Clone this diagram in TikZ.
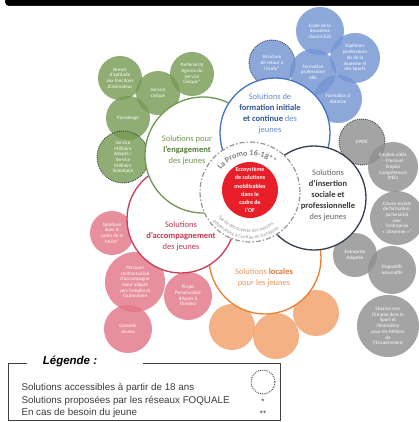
\documentclass[tikz,border=0pt]{standalone}
\usepackage{fontspec}
\setmainfont{Carlito}
\newfontfamily\legfont{Liberation Sans}
\usetikzlibrary{decorations.text}
\definecolor{gfill}{RGB}{120,155,86}
\definecolor{bfill}{RGB}{115,149,211}
\definecolor{yfill}{RGB}{144,144,144}
\definecolor{pfill}{RGB}{227,119,136}
\definecolor{ofill}{RGB}{242,161,105}
\definecolor{gcol}{RGB}{112,150,80}
\definecolor{gdark}{RGB}{90,125,60}
\definecolor{bcol}{RGB}{68,114,196}
\definecolor{blight}{RGB}{100,140,210}
\definecolor{bdark}{RGB}{47,85,151}
\definecolor{icol}{RGB}{50,62,82}
\definecolor{ilight}{RGB}{100,100,100}
\definecolor{idark}{RGB}{55,55,55}
\definecolor{pcol}{RGB}{200,60,90}
\definecolor{ptext}{RGB}{200,50,80}
\definecolor{ocol}{RGB}{237,125,49}
\definecolor{olight}{RGB}{235,150,90}
\definecolor{odark}{RGB}{220,120,55}
\definecolor{redc}{RGB}{232,30,40}
\definecolor{ringc}{RGB}{150,150,150}
\definecolor{legc}{RGB}{60,60,60}
\tikzset{
  smallc/.style={circle, inner sep=0pt, minimum size=#1, align=center, text=white,
    font=\fontsize{5}{5.7}\selectfont, fill opacity=0.82, text opacity=1},
  gsc/.style={smallc=#1, fill=gfill},
  bsc/.style={smallc=#1, fill=bfill},
  ysc/.style={smallc=#1, fill=yfill},
  psc/.style={smallc=#1, fill=pfill},
  osc/.style={smallc=#1, fill=ofill},
  dotb/.style={draw=black!75, densely dotted, line width=0.9pt, draw opacity=1},
  mainc/.style={circle, inner sep=0pt, minimum size=#1, fill=white, line width=1.3pt},
  mtext/.style={align=center, font=\fontsize{8.5}{11}\selectfont},
  legline/.style={draw=black!75, line width=0.9pt},
  legtext/.style={anchor=base west, text=legc, font=\legfont\fontsize{9.8}{11}\selectfont},
}
\begin{document}
\begin{tikzpicture}[x=1pt,y=1pt]
\useasboundingbox (0,0) rectangle (418,-422);
\fill[white] (0,0) rectangle (418,-422);
% top bar
\node[fill=black, draw=black, line width=0.5pt, rounded corners=4pt, inner sep=0pt,
  minimum width=440pt, minimum height=12pt, anchor=south west] (topbar) at (5,-6) {};
% green small circles
\node[gsc=44pt] (brevet) at (120,-78) {Brevet\\d'aptitude\\aux fonctions\\d'animateur};
\node[gsc=44pt] (civique) at (158,-93) {Service\\civique};
\node[gsc=44pt] (partenariat) at (192,-74) {Partenariat\\Agence du\\Service\\Civique*};
\node[gsc=44pt] (parrainage) at (128,-118) {Parrainage};
\node[gsc=52pt, dotb] (sma) at (123,-157) {Service\\Militaire\\Adapté /\\Service\\Militaire\\Volontaire};
% blue small circles
\node[bsc=48pt] (e2c) at (320,-31) {Ecole de la\\deuxième\\chance E2C};
\node[bsc=50pt] (diplomes) at (355,-58) {Diplômes\\professionn\\els de la\\Jeunesse et\\des Sports};
\node[bsc=46pt, dotb] (retour) at (272,-63) {Structure\\de retour à\\l'école*};
\node[bsc=46pt] (formpro) at (313,-72) {Formation\\professionn\\elle};
\node[bsc=48pt] (distance) at (338,-99) {Formation à\\distance};
% grey small circles
\node[ysc=46pt, dotb] (epide) at (362,-142) {EPIDE};
\node[ysc=50pt] (pec) at (393,-167) {Emplois aidés\\– Parcours\\Emploi\\Compétences\\(PEC)};
\node[ysc=54pt] (clause) at (397,-218) {Clause sociale\\de formation,\\partenariat\\avec\\l'entreprise\\« citoyenne »*};
\node[ysc=44pt] (ea) at (355,-255) {Entreprise\\Adaptée};
\node[ysc=48pt] (assoc) at (392,-270) {Dispositifs\\associatifs};
\node[ysc=62pt] (sesame) at (388,-326) {Sésame vers\\l'Emploi dans le\\Sport et\\l'Animation\\pour les Métiers\\de\\l'Encadrement};
% pink small circles
\node[psc=44pt] (mlds) at (112,-233) {Solutions\\dans le\\cadre de la\\MLDS*};
\node[psc=60pt] (parcours) at (135,-282) {Parcours\\contractualisé\\d'accompagne\\ment adapté\\vers l'emploi et\\l'autonomie};
\node[psc=48pt] (ppae) at (188,-296) {Projet\\Personnalisé\\d'Accès à\\l'Emploi};
\node[psc=48pt] (garantie) at (128,-329) {Garantie\\Jeunes};
% orange small circles
\node[osc=46pt] (o1) at (232,-327) {};
\node[osc=46pt] (o2) at (276,-336) {};
\node[osc=46pt] (o3) at (316,-313) {};
% main circles
\node[mainc=112pt, draw=ocol] (mlocal) at (265,-258) {};
\node[mainc=108pt, draw=pcol] (maccomp) at (181,-219) {};
\node[mainc=116pt, draw=gcol] (mengage) at (203,-155) {};
\node[mainc=110pt, draw=bcol] (mform) at (275,-133) {};
\node[mainc=104pt, draw=icol] (minsert) at (314,-198) {};
% central ring
\coordinate (rc) at (250,-192);
\node[circle, inner sep=0pt, minimum size=100pt, fill=white, draw=ringc, line width=1.2pt,
  dash pattern=on 5pt off 2pt on 1.5pt off 2pt] (ring) at (rc) {};
\node[circle, inner sep=0pt, minimum size=56pt, fill=redc, text=white, align=center,
  font=\fontsize{6}{8.1}\selectfont\bfseries] (eco) at (250,-190) {Ecosystème\\de solutions\\mobilisables\\dans le\\cadre de\\l'OF};
\path[decorate, decoration={text along path, text align=center,
  text={|\fontsize{8}{8}\selectfont\bfseries\color{ringc!85!black}|La Promo 16-18**}}]
  ([shift={(152:36.5)}]rc) arc[start angle=152, end angle=40, radius=36.5];
\path[decorate, decoration={text along path, text align=center,
  text={|\fontsize{5}{5}\selectfont\color{ringc}|Sas de découverte des métiers}}]
  ([shift={(190:40.5)}]rc) arc[start angle=190, end angle=335, radius=40.5];
\path[decorate, decoration={text along path, text align=center,
  text={|\fontsize{5}{5}\selectfont\color{ringc}|préparatoire à l'entrée en formation}}]
  ([shift={(197:47)}]rc) arc[start angle=197, end angle=330, radius=47];
% main texts
\node[mtext, text=gcol] (tengage) at (187,-150) {Solutions pour\\\textcolor{gdark}{\textbf{l'engagement}}\\des jeunes};
\node[mtext, text=blight] (tform) at (270,-114) {Solutions de\\\textcolor{bdark}{\textbf{formation initiale}}\\\textcolor{bdark}{\textbf{et continue}} des\\jeunes};
\node[mtext, text=ilight] (tinsert) at (328,-195) {Solutions\\\textcolor{idark}{\textbf{d'insertion}}\\\textcolor{idark}{\textbf{sociale et}}\\\textcolor{idark}{\textbf{professionnelle}}\\des jeunes};
\node[mtext, text=ptext] (taccomp) at (181,-236) {Solutions\\\textbf{d'accompagnement}\\des jeunes};
\node[mtext, text=olight] (tlocal) at (264,-278) {Solutions \textcolor{odark}{\textbf{locales}}\\pour les jeunes};
% legend
\draw[legline] (27,-363) -- (8,-363) -- (8,-420.5) -- (280,-420.5) -- (280,-363) -- (143,-363);
\node[font=\legfont\bfseries\itshape\fontsize{11.5}{13}\selectfont] (legtitle) at (70,-361) {Légende :};
\node[legtext] (l1) at (18,-390.5) {Solutions accessibles à partir de 18 ans};
\node[legtext] (l2) at (18,-403.5) {Solutions proposées par les réseaux FOQUALE};
\node[legtext] (l3) at (18,-415.5) {En cas de besoin du jeune};
\node[circle, draw=black!75, densely dotted, line width=0.9pt, minimum size=24pt, inner sep=0pt] (sym1) at (263,-382) {};
\node[text=legc, font=\legfont\fontsize{8}{8}\selectfont] (sym2) at (263,-402) {*};
\node[text=legc, font=\legfont\fontsize{8}{8}\selectfont] (sym3) at (263,-414) {**};
\end{tikzpicture}
\end{document}
